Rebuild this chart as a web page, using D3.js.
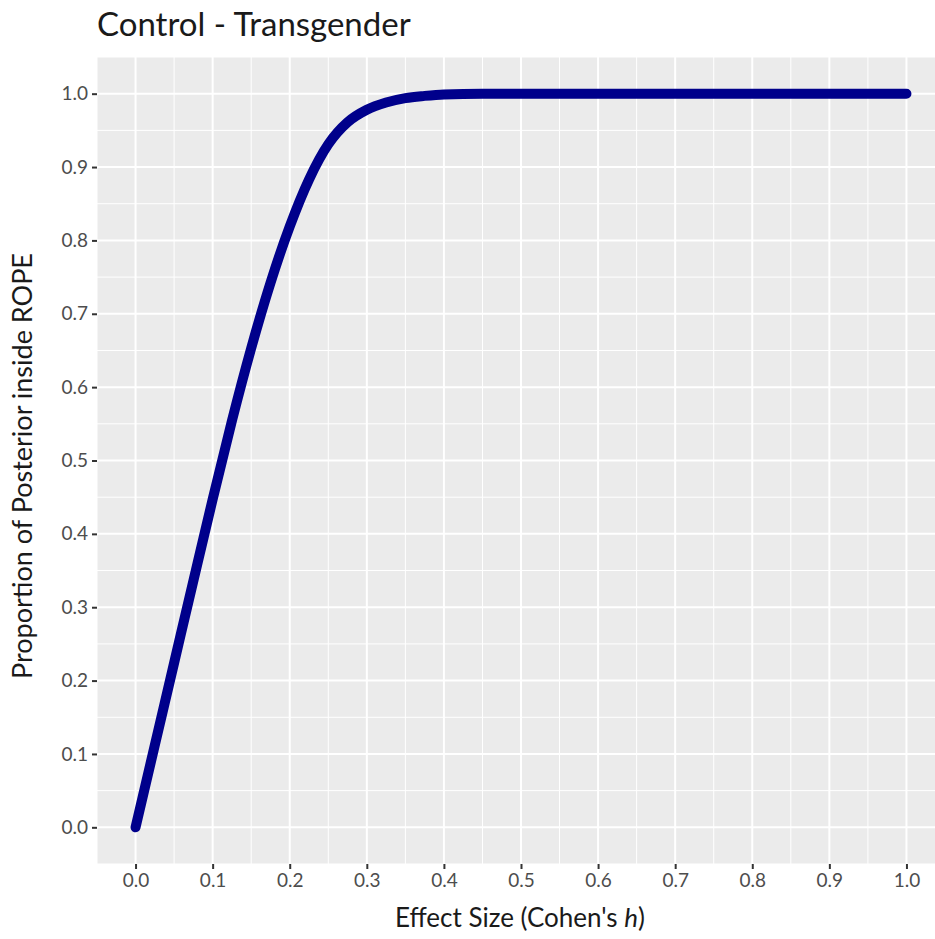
<!DOCTYPE html>
<html>
<head>
<meta charset="utf-8">
<script src="https://cdn.jsdelivr.net/npm/d3@7"></script>
<style>
  body { margin: 0; background: #fff; }
  svg { display: block; font-family: Lato, "Open Sans", sans-serif; }
</style>
</head>
<body>
<svg></svg>
<script>
var width = 935;
var height = 939;

// effect size (Cohen's h) and proportion of posterior inside ROPE
var effectSize = [0, 0.025, 0.05, 0.075, 0.1, 0.125, 0.15, 0.175, 0.2, 0.225, 0.25,
  0.275, 0.3, 0.325, 0.35, 0.375, 0.4, 0.45, 0.5, 0.6, 0.7, 0.8, 0.9, 1.0];
var propInside = [0, 0.112, 0.224, 0.336, 0.447, 0.554, 0.653, 0.742, 0.819, 0.883, 0.931,
  0.961, 0.978, 0.988, 0.994, 0.997, 0.999, 1, 1, 1, 1, 1, 1, 1];

var xTicks = [0, 0.1, 0.2, 0.3, 0.4, 0.5, 0.6, 0.7, 0.8, 0.9, 1.0];
var yTicks = [0, 0.1, 0.2, 0.3, 0.4, 0.5, 0.6, 0.7, 0.8, 0.9, 1.0];

var panel = {left: 97, right: 945, top: 57, bottom: 864};

var svg = d3.select('svg')
    .attr('width', width)
    .attr('height', height);

// ggplot style 5% expansion
var x = d3.scaleLinear()
    .domain([-0.05, 1.05])
    .range([panel.left, panel.right]);
var y = d3.scaleLinear()
    .domain([-0.05, 1.05])
    .range([panel.bottom, panel.top]);

svg.append('rect')
    .attr('x', panel.left)
    .attr('y', panel.top)
    .attr('width', panel.right - panel.left)
    .attr('height', panel.bottom - panel.top)
    .style('fill', '#ebebeb');

// minor grid halfway between majors
var minor = d3.range(-0.05, 1.06, 0.1);
svg.selectAll('.minorx').data(minor).enter().append('line')
    .attr('x1', d => x(d)).attr('x2', d => x(d))
    .attr('y1', panel.top).attr('y2', panel.bottom)
    .style('stroke', '#fff').style('stroke-width', 1);
svg.selectAll('.minory').data(minor).enter().append('line')
    .attr('y1', d => y(d)).attr('y2', d => y(d))
    .attr('x1', panel.left).attr('x2', panel.right)
    .style('stroke', '#fff').style('stroke-width', 1);

svg.selectAll('.majorx').data(xTicks).enter().append('line')
    .attr('x1', d => x(d)).attr('x2', d => x(d))
    .attr('y1', panel.top).attr('y2', panel.bottom)
    .style('stroke', '#fff').style('stroke-width', 2);
svg.selectAll('.majory').data(yTicks).enter().append('line')
    .attr('y1', d => y(d)).attr('y2', d => y(d))
    .attr('x1', panel.left).attr('x2', panel.right)
    .style('stroke', '#fff').style('stroke-width', 2);

// axes
var xAxis = d3.axisBottom(x).tickValues(xTicks).tickFormat(d3.format('.1f'))
    .tickSize(5).tickPadding(5);
var yAxis = d3.axisLeft(y).tickValues(yTicks).tickFormat(d3.format('.1f'))
    .tickSize(5).tickPadding(4);

var gx = svg.append('g')
    .attr('transform', 'translate(0,' + panel.bottom + ')')
    .call(xAxis);
var gy = svg.append('g')
    .attr('transform', 'translate(' + panel.left + ',0)')
    .call(yAxis);

[gx, gy].forEach(function(g){
  g.select('.domain').remove();
  g.selectAll('.tick line').style('stroke', '#333').style('stroke-width', 2);
  g.selectAll('.tick text')
      .style('fill', '#4d4d4d')
      .style('font-size', '19px')
      .style('font-family', 'Lato, sans-serif');
});

// the curve
var line = d3.line()
    .x(function(d, i){ return x(effectSize[i]); })
    .y(function(d){ return y(d); })
    .curve(d3.curveMonotoneX);

svg.append('path')
    .datum(propInside)
    .attr('d', line)
    .style('fill', 'none')
    .style('stroke', '#00008b')
    .style('stroke-width', 10)
    .style('stroke-linecap', 'round')
    .style('stroke-linejoin', 'round');

// titles
svg.append('text')
    .attr('x', panel.left)
    .attr('y', 36)
    .style('font-size', '33px')
    .style('fill', '#1a1a1a')
    .text('Control - Transgender');

var xt = svg.append('text')
    .attr('x', 520)
    .attr('y', 927)
    .attr('text-anchor', 'middle')
    .style('font-size', '26px')
    .style('fill', '#1a1a1a');
xt.append('tspan').text("Effect Size (Cohen's ");
xt.append('tspan').style('font-style', 'italic').text('h');
xt.append('tspan').text(')');

svg.append('text')
    .attr('transform', 'translate(32,466) rotate(-90)')
    .attr('text-anchor', 'middle')
    .style('font-size', '27px')
    .style('fill', '#1a1a1a')
    .text('Proportion of Posterior inside ROPE');
</script>
</body>
</html>
